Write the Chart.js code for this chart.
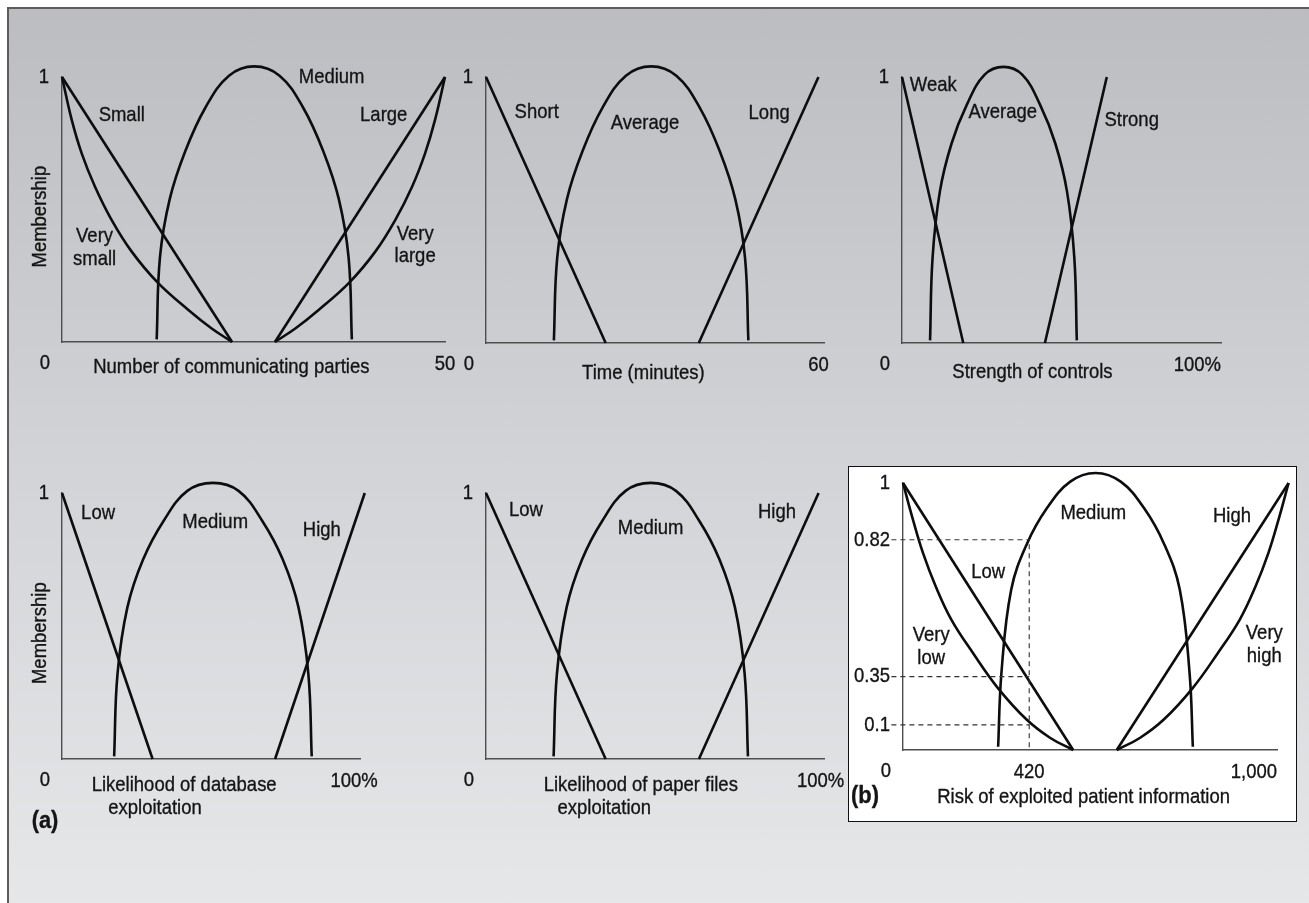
<!DOCTYPE html>
<html>
<head>
<meta charset="utf-8">
<title>Fuzzy membership functions</title>
<script src="https://cdn.jsdelivr.net/npm/chart.js@4.4.0/dist/chart.umd.min.js"></script>
<style>
  html, body { margin: 0; padding: 0; }
  body { width: 1309px; height: 903px; position: relative; overflow: hidden; background: #fff; }
  #frame {
    position: absolute; left: 7px; top: 7px; right: 0; bottom: 0;
    border-left: 2px solid #5c5c5c; border-top: 2px solid #5c5c5c;
    background: linear-gradient(#bcbdc1, #d2d3d6 50%, #e6e7e9);
  }
  #boxB {
    position: absolute; left: 848px; top: 466px; width: 449px; height: 356px;
    box-sizing: border-box; background: #fff; border: 1.5px solid #111;
  }
  canvas { position: absolute; left: 0; top: 0; width: 1309px; height: 903px; }
</style>
</head>
<body>
<div id="frame"></div>
<div id="boxB"></div>
<canvas id="c1" width="1309" height="903"></canvas>
<canvas id="c2" width="1309" height="903"></canvas>
<canvas id="c3" width="1309" height="903"></canvas>
<canvas id="c4" width="1309" height="903"></canvas>
<canvas id="c5" width="1309" height="903"></canvas>
<canvas id="c6" width="1309" height="903"></canvas>
<script>
// ---- data ----

// number of communicating parties (0-50)
var partiesVerySmallX = [0, 1.27, 2.57, 4.31, 6.49, 9.1, 12.5, 16.5, 19.5, 22.2];
var partiesVerySmallY = [1, 0.838, 0.712, 0.586, 0.46, 0.341, 0.224, 0.121, 0.052, 0];
var partiesSmallX = [0, 22.2];
var partiesSmallY = [1, 0];
var partiesMediumX = [12.36, 12.79, 14.07, 16.09, 18.73, 21.8, 25.1, 28.4, 31.47, 34.11, 36.13, 37.41, 37.84];
var partiesMediumY = [0.01, 0.32, 0.54, 0.72, 0.885, 1.005, 1.04, 1.005, 0.885, 0.72, 0.54, 0.32, 0.01];
var partiesLargeX = [27.8, 50];
var partiesLargeY = [0, 1];
var partiesVeryLargeX = [27.8, 30.5, 33.5, 37.5, 40.9, 43.5, 45.7, 47.4, 48.7, 50];
var partiesVeryLargeY = [0, 0.052, 0.121, 0.224, 0.341, 0.46, 0.586, 0.712, 0.838, 1];

// time (minutes)
var timeShortX = [0, 21.6];
var timeShortY = [1, 0];
var timeAverageX = [12.25, 12.85, 14.6, 17.39, 21.03, 25.25, 29.8, 34.35, 38.57, 42.21, 45.0, 46.75, 47.35];
var timeAverageY = [0.01, 0.32, 0.54, 0.72, 0.885, 1.005, 1.04, 1.005, 0.885, 0.72, 0.54, 0.32, 0.01];
var timeLongX = [38.4, 60];
var timeLongY = [0, 1];

// strength of controls (%)
var controlsWeakX = [0, 19.2];
var controlsWeakY = [1, 0];
var controlsAverageX = [8.8, 9.58, 11.88, 15.54, 20.3, 25.84, 31.8, 37.76, 43.3, 48.06, 51.72, 54.02, 54.8];
var controlsAverageY = [0.01, 0.32, 0.57, 0.75, 0.895, 1.008, 1.038, 1.008, 0.895, 0.75, 0.57, 0.32, 0.01];
var controlsStrongX = [44.8, 64.2];
var controlsStrongY = [0, 1];

// likelihood of database exploitation (%)
var dbLowX = [0, 30.4];
var dbLowY = [1, 0];
var dbMediumX = [17.5, 18.63, 21.94, 27.21, 34.08, 42.06, 50.65, 59.24, 67.22, 74.09, 79.36, 82.67, 83.8];
var dbMediumY = [0.01, 0.32, 0.57, 0.75, 0.895, 1.008, 1.038, 1.008, 0.895, 0.75, 0.57, 0.32, 0.01];
var dbHighX = [71.5, 101.6];
var dbHighY = [0, 1];

// likelihood of paper files exploitation (%)
var paperLowX = [0, 35.4];
var paperLowY = [1, 0];
var paperMediumX = [20.0, 20.98, 23.85, 28.42, 34.38, 41.3, 48.75, 56.2, 63.12, 69.08, 73.65, 76.52, 77.5];
var paperMediumY = [0.01, 0.32, 0.57, 0.75, 0.895, 1.008, 1.038, 1.008, 0.895, 0.75, 0.57, 0.32, 0.01];
var paperHighX = [63.0, 98.4];
var paperHighY = [0, 1];

// (b) risk of exploited patient information (0-1000)
var riskVeryLowX = [0, 26.8, 53.6, 87.6, 129.6, 187.5, 254.4, 330.4, 392.9, 455];
var riskVeryLowY = [1, 0.862, 0.7375, 0.6125, 0.4875, 0.3625, 0.231, 0.114, 0.046, 0];
var riskLowX = [0, 455];
var riskLowY = [1, 0];
var riskMediumX = [254.4, 263.25, 289.28, 330.67, 384.55, 447.3, 514.7, 582.1, 644.85, 698.73, 740.12, 766.15, 775];
var riskMediumY = [0.012, 0.29, 0.6, 0.77, 0.905, 1.005, 1.0375, 1.005, 0.905, 0.77, 0.6, 0.29, 0.012];
var riskHighX = [571.5, 1031];
var riskHighY = [0, 1];
var riskVeryHighX = [571.5, 634.2, 697.3, 774, 841.6, 900.1, 942.5, 976.9, 1003.9, 1031];
var riskVeryHighY = [0, 0.046, 0.114, 0.231, 0.3625, 0.4875, 0.6125, 0.7375, 0.862, 1];

// the worked example: input "420" and the memberships it gives.
// the figure is not drawn to scale, so these sit where the dashed guides are drawn
var riskMarkX = 337.5;
var riskMarkLabel = '420';
var riskMarkY = [0.7875, 0.275, 0.094];
var riskMarkText = ['0.82', '0.35', '0.1'];

// ---- drawing ----
var W = 1309, H = 903;
var TEXT_FONT = '21px "Liberation Sans", Arial, sans-serif';
var TAG_FONT = 'bold 23px "Liberation Sans", Arial, sans-serif';
var SQUEEZE = 0.88;   // the original type is a condensed face
var LINE_GAP = 22.5;
var INK = '#0d0d0d';

function pts(xs, ys) {
  return xs.map(function (x, i) { return { x: x, y: ys[i] }; });
}

function curve(xs, ys) {
  return {
    data: pts(xs, ys),
    borderColor: INK,
    borderWidth: 2.6,
    pointRadius: 0,
    fill: false,
    clip: false,
    capBezierPoints: false,
    cubicInterpolationMode: 'default',
    tension: xs.length > 2 ? 0.4 : 0
  };
}

function dashed(xs, ys) {
  var d = curve(xs, ys);
  d.borderColor = '#333';
  d.borderWidth = 1.1;
  d.borderDash = [5, 4];
  return d;
}

function put(ctx, text, x, y, align, font, sx) {
  var lines = String(text).split('\n');
  ctx.font = font || TEXT_FONT;
  ctx.textAlign = align || 'center';
  ctx.textBaseline = 'middle';
  ctx.lineWidth = 0.35;
  lines.forEach(function (line, i) {
    ctx.save();
    ctx.translate(x, y + (i - (lines.length - 1) / 2) * LINE_GAP);
    ctx.scale(sx || SQUEEZE, 1);
    ctx.fillText(line, 0, 0);
    ctx.strokeText(line, 0, 0);
    ctx.restore();
  });
}

function panelText(p) {
  return {
    id: 'panelText',
    afterDraw: function (chart) {
      var ctx = chart.ctx;
      var X = function (v) { return chart.scales.x.getPixelForValue(v); };
      var Y = function (v) { return chart.scales.y.getPixelForValue(v); };
      var x0 = X(0), y0 = Y(0);
      ctx.save();
      ctx.fillStyle = '#141414';
      ctx.strokeStyle = '#141414';
      put(ctx, '0', x0 - 17, y0 + 21);
      p.yTicks.forEach(function (v, i) { put(ctx, p.yTickText[i], x0 - 13, Y(v), 'right'); });
      p.xTicks.forEach(function (v, i) { put(ctx, p.xTickText[i], X(v), y0 + 22, p.xTickAlign[i]); });
      p.titles.forEach(function (t) { put(ctx, t[0], X(t[1]), y0 + t[2]); });
      p.notes.forEach(function (n) { put(ctx, n[0], X(n[1]), Y(n[2])); });
      if (p.yTitle) {
        ctx.save();
        ctx.translate(x0 - 21.5, Y(0.473));
        ctx.rotate(-Math.PI / 2);
        put(ctx, p.yTitle, 0, 0);
        ctx.restore();
      }
      if (p.tag) put(ctx, p.tag[0], x0 + p.tag[1], y0 + p.tag[2], 'center', TAG_FONT, 0.95);
      ctx.restore();
    }
  };
}

// range is fixed after the data limits, not through min/max, so that
// points just past the axis end (the top of "Very high") are still drawn
function axis(max) {
  return {
    type: 'linear', display: true, bounds: 'data',
    afterDataLimits: function (scale) { scale.min = 0; scale.max = max; },
    ticks: { display: false },
    grid: { display: false, drawTicks: false },
    border: { display: true, color: '#4e4e4e', width: 1.4 }
  };
}

var riskDashes = riskMarkY.map(function (v) { return dashed([-31, riskMarkX], [v, v]); });
riskDashes.push(dashed([riskMarkX, riskMarkX], [0.01, riskMarkY[0]]));

var panels = [
  {
    id: 'c1', area: [62, 77, 445, 342], xMax: 50,
    datasets: [
      curve(partiesVerySmallX, partiesVerySmallY), curve(partiesSmallX, partiesSmallY),
      curve(partiesMediumX, partiesMediumY), curve(partiesLargeX, partiesLargeY),
      curve(partiesVeryLargeX, partiesVeryLargeY)
    ],
    yTicks: [1], yTickText: ['1'],
    xTicks: [50], xTickText: ['50'], xTickAlign: ['center'],
    titles: [['Number of communicating parties', 22.1, 25]],
    notes: [['Small', 7.8, 0.857], ['Medium', 35.2, 0.999], ['Large', 42.0, 0.857],
            ['Very\nsmall', 4.25, 0.355], ['Very\nlarge', 46.1, 0.366]],
    yTitle: 'Membership'
  },
  {
    id: 'c2', area: [486, 77, 824, 343], xMax: 61,
    datasets: [curve(timeShortX, timeShortY), curve(timeAverageX, timeAverageY), curve(timeLongX, timeLongY)],
    yTicks: [1], yTickText: ['1'],
    xTicks: [60], xTickText: ['60'], xTickAlign: ['center'],
    titles: [['Time (minutes)', 28.4, 30]],
    notes: [['Short', 9.15, 0.866], ['Average', 28.7, 0.828], ['Long', 51.1, 0.864]]
  },
  {
    id: 'c3', area: [902, 77, 1221, 343], xMax: 100,
    datasets: [curve(controlsWeakX, controlsWeakY), curve(controlsAverageX, controlsAverageY), curve(controlsStrongX, controlsStrongY)],
    yTicks: [1], yTickText: ['1'],
    xTicks: [100], xTickText: ['100%'], xTickAlign: ['right'],
    titles: [['Strength of controls', 40.9, 29]],
    notes: [['Weak', 9.8, 0.97], ['Average', 31.6, 0.866], ['Strong', 72.0, 0.836]]
  },
  {
    id: 'c4', area: [62, 493, 360, 759], xMax: 100,
    datasets: [curve(dbLowX, dbLowY), curve(dbMediumX, dbMediumY), curve(dbHighX, dbHighY)],
    yTicks: [1], yTickText: ['1'],
    xTicks: [98], xTickText: ['100%'], xTickAlign: ['center'],
    titles: [['Likelihood of database', 41.0, 26], ['exploitation', 31.2, 49]],
    notes: [['Low', 12.1, 0.925], ['Medium', 51.4, 0.891], ['High', 87.2, 0.859]],
    yTitle: 'Membership',
    tag: ['(a)', -17, 63]
  },
  {
    id: 'c5', area: [486, 493, 824, 759], xMax: 100,
    datasets: [curve(paperLowX, paperLowY), curve(paperMediumX, paperMediumY), curve(paperHighX, paperHighY)],
    yTicks: [1], yTickText: ['1'],
    xTicks: [99], xTickText: ['100%'], xTickAlign: ['center'],
    titles: [['Likelihood of paper files', 45.8, 26], ['exploitation', 35.0, 49]],
    notes: [['Low', 11.8, 0.937], ['Medium', 48.7, 0.868], ['High', 86.1, 0.927]]
  },
  {
    id: 'c6', area: [903, 483, 1277, 750], xMax: 1000,
    datasets: riskDashes.concat([
      curve(riskVeryLowX, riskVeryLowY), curve(riskLowX, riskLowY), curve(riskMediumX, riskMediumY),
      curve(riskHighX, riskHighY), curve(riskVeryHighX, riskVeryHighY)
    ]),
    yTicks: [1].concat(riskMarkY), yTickText: ['1'].concat(riskMarkText),
    xTicks: [riskMarkX, 1000], xTickText: [riskMarkLabel, '1,000'], xTickAlign: ['center', 'right'],
    titles: [['Risk of exploited patient information', 483, 47]],
    notes: [['Medium', 508.8, 0.8875], ['High', 879.5, 0.875], ['Low', 227.6, 0.665],
            ['Very\nlow', 75.5, 0.387], ['Very\nhigh', 966, 0.395]],
    tag: ['(b)', -38, 47]
  }
];

panels.forEach(function (p) {
  var a = p.area;
  new Chart(document.getElementById(p.id), {
    type: 'line',
    data: { datasets: p.datasets },
    options: {
      responsive: false,
      animation: false,
      events: [],
      layout: { padding: { left: a[0], top: a[1], right: W - a[2], bottom: H - a[3] } },
      plugins: { legend: { display: false }, tooltip: { enabled: false } },
      scales: { x: axis(p.xMax), y: axis(1) }
    },
    plugins: [panelText(p)]
  });
});
</script>
</body>
</html>
